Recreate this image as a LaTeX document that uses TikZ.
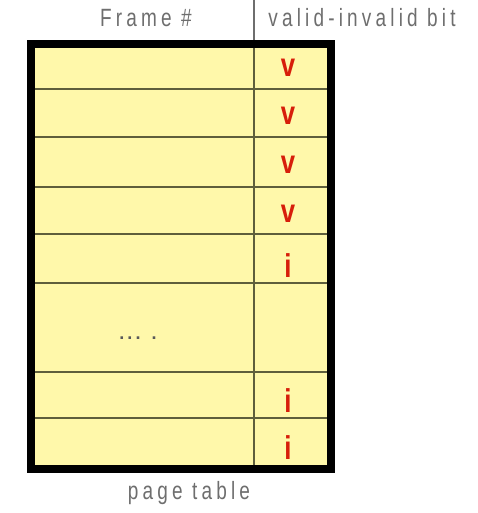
\documentclass[tikz,border=0pt]{standalone}
\usepackage{fontspec}
\setmainfont{Liberation Sans}
\newfontfamily\hdrfont[LetterSpace=22]{Liberation Sans}
\newfontfamily\bitfont{Liberation Sans Bold}
\newfontfamily\dotfont[LetterSpace=18]{Liberation Sans Bold}
\definecolor{cellfill}{RGB}{255,248,170}
\definecolor{gridline}{RGB}{95,95,60}
\definecolor{hdrgray}{RGB}{110,110,110}
\definecolor{bitred}{RGB}{215,30,10}
\begin{document}
\begin{tikzpicture}[x=1pt,y=-1pt,
  hdr/.style={anchor=base,inner sep=0pt,text=hdrgray,font=\hdrfont\fontsize{25}{25}\selectfont,xscale=0.76},
  bit/.style={anchor=base,inner sep=0pt,text=bitred,font=\bitfont\fontsize{33}{33}\selectfont,xscale=0.78},
  rowline/.style={gridline,line width=2pt},
  frame/.style={black,line width=8pt}]
\useasboundingbox (0,0) rectangle (477,513);
% table body
\coordinate (tl) at (31,44);
\coordinate (br) at (330.5,468.5);
\fill[cellfill] (tl) rectangle (br);
% row separators
\foreach \y in {89,137.5,186.5,234,282.5,372,417.5}
  \draw[rowline] (31,\y) -- (330.5,\y);
% column divider
\coordinate (dtop) at (254,0);
\coordinate (dmid) at (254,40);
\coordinate (dbot) at (254,468);
\draw[hdrgray,line width=1.8pt] (dtop) -- (dmid);
\draw[rowline] (dmid) -- (dbot);
\draw[frame] (tl) rectangle (br);
% headers
\node[hdr] (framehdr) at (146,27) {Frame \#};
\node[hdr] (bithdr) at (362,27) {valid-invalid bit};
\node[hdr] (caption) at (189,499) {page table};
% bits
\node[bit] (b1) at (288,77) {v};
\node[bit] (b2) at (288,125) {v};
\node[bit] (b3) at (288,173) {v};
\node[bit] (b4) at (288,222.5) {v};
\node[bit] (b5) at (288,277) {i};
\node[bit] (b7) at (288,412) {i};
\node[bit] (b8) at (288,459) {i};
% ellipsis
\node[anchor=base,inner sep=0pt,text=black!65,font=\dotfont\fontsize{18}{18}\selectfont] (dots) at (138,339) {... .};
\end{tikzpicture}
\end{document}
